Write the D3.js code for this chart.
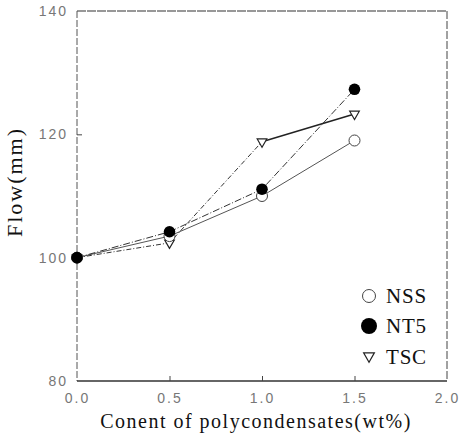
<!DOCTYPE html>
<html><head><meta charset="utf-8">
<script src="https://cdn.jsdelivr.net/npm/d3@7"></script>
<style>body{margin:0;background:#fff}</style>
</head><body>
<svg id="c" width="460" height="439"></svg>
<script>
const xValues = [0.0, 0.5, 1.0, 1.5];
const nss = [100, 103.5, 110.0, 119.0];
const nt5 = [100, 104.2, 111.1, 127.3];
const tsc = [100, 102.4, 118.8, 123.3];
const xTicks = [0.0, 0.5, 1.0, 1.5, 2.0];
const yTicks = [80, 100, 120, 140];
const seriesNames = ["NSS", "NT5", "TSC"];

const SERIF = "'Liberation Serif', 'DejaVu Serif', serif";
const SANS = "'Liberation Sans', Arial, sans-serif";

const svg = d3.select("#c");
const L = 77, R = 447, T = 11, B = 381;
const x = d3.scaleLinear().domain([0, 2]).range([L, R]);
const y = d3.scaleLinear().domain([80, 140]).range([B, T]);

// frame
const g = svg.append("g");
g.append("line").attr("x1", L).attr("x2", R).attr("y1", T).attr("y2", T).attr("stroke", "#333").attr("stroke-width", 1.2).attr("stroke-dasharray", "9,1");
g.append("line").attr("x1", R).attr("x2", R).attr("y1", T).attr("y2", B).attr("stroke", "#444").attr("stroke-width", 1).attr("stroke-dasharray", "8,2");
g.append("line").attr("x1", L).attr("x2", L).attr("y1", T).attr("y2", B).attr("stroke", "#555").attr("stroke-width", 1).attr("stroke-dasharray", "7,2");
g.append("line").attr("x1", L).attr("x2", R).attr("y1", B).attr("y2", B).attr("stroke", "#333").attr("stroke-width", 1.3);

// axes
const xAxis = d3.axisBottom(x).tickValues(xTicks).tickFormat(d3.format(".1f")).tickSizeInner(-5).tickSizeOuter(0).tickPadding(10);
const xa = svg.append("g").attr("transform", `translate(0,${B})`).call(xAxis);
xa.select(".domain").remove();
xa.selectAll(".tick line").attr("stroke", "#444").filter(d => d === 0 || d === 2).remove();
xa.selectAll("text").attr("font-family", SANS).attr("font-size", 14).attr("letter-spacing", 2).attr("fill", "#777").attr("dy", "0.35em").attr("y", 17);

const yAxis = d3.axisLeft(y).tickValues(yTicks).tickSizeInner(-5).tickSizeOuter(0).tickPadding(9);
const ya = svg.append("g").attr("transform", `translate(${L},0)`).call(yAxis);
ya.select(".domain").remove();
ya.selectAll(".tick line").attr("stroke", "#444").filter(d => d === 80 || d === 140).remove();
ya.selectAll("text").attr("font-family", SANS).attr("font-size", 14).attr("letter-spacing", 2).attr("fill", "#777").attr("x", -9);

// titles
svg.append("text").attr("x", 256).attr("y", 428).attr("text-anchor", "middle")
  .style("font-family", SERIF).attr("font-size", 20).attr("letter-spacing", 1.5).attr("fill", "#111")
  .text("Conent of polycondensates(wt%)");
svg.append("text").attr("transform", "translate(22,182) rotate(-90)").attr("text-anchor", "middle")
  .style("font-family", SERIF).attr("font-size", 22).attr("letter-spacing", 2).attr("fill", "#111")
  .text("Flow(mm)");

// lines
const line = d3.line().x(d => x(d[0])).y(d => y(d[1]));
const pts = arr => xValues.map((v, i) => [v, arr[i]]);
svg.append("path").datum(pts(nss)).attr("d", line).attr("fill", "none").attr("stroke", "#555").attr("stroke-width", 1);
svg.append("path").datum(pts(nt5)).attr("d", line).attr("fill", "none").attr("stroke", "#333").attr("stroke-width", 1).attr("stroke-dasharray", "7,2,1,2");
const tp = pts(tsc);
svg.append("path").datum(tp.slice(0, 3)).attr("d", line).attr("fill", "none").attr("stroke", "#333").attr("stroke-width", 1).attr("stroke-dasharray", "5,2,1,2");
svg.append("path").datum(tp.slice(2)).attr("d", line).attr("fill", "none").attr("stroke", "#222").attr("stroke-width", 1.4);

// markers
const tri = d3.symbol().type(d3.symbolTriangle).size(40);
svg.selectAll(".tsc").data(tp).enter().append("path").attr("class", "tsc")
  .attr("d", tri).attr("transform", d => `translate(${x(d[0])},${y(d[1])}) rotate(180)`)
  .attr("fill", "#fff").attr("stroke", "#222").attr("stroke-width", 1.2);
svg.selectAll(".nss").data(pts(nss)).enter().append("circle").attr("class", "nss")
  .attr("cx", d => x(d[0])).attr("cy", d => y(d[1])).attr("r", 5.5)
  .attr("fill", "#fff").attr("stroke", "#444").attr("stroke-width", 1);
svg.selectAll(".nt5").data(pts(nt5)).enter().append("circle").attr("class", "nt5")
  .attr("cx", d => x(d[0])).attr("cy", d => y(d[1])).attr("r", 5.8).attr("fill", "#000");

// legend
const lg = svg.append("g");
const ly = [296, 326, 357];
lg.append("circle").attr("cx", 369).attr("cy", ly[0]).attr("r", 6.5).attr("fill", "#fff").attr("stroke", "#444").attr("stroke-width", 1);
lg.append("circle").attr("cx", 369).attr("cy", ly[1]).attr("r", 8).attr("fill", "#000");
lg.append("path").attr("d", d3.symbol().type(d3.symbolTriangle).size(50)).attr("transform", `translate(369,${ly[2]-1}) rotate(180)`)
  .attr("fill", "#fff").attr("stroke", "#222").attr("stroke-width", 1.2);
seriesNames.forEach((n, i) => {
  lg.append("text").attr("x", 386).attr("y", ly[i]).attr("dy", "0.35em")
    .style("font-family", SERIF).attr("font-size", 21).attr("letter-spacing", 0.8).attr("fill", "#111").text(n);
});
</script>
</body></html>
